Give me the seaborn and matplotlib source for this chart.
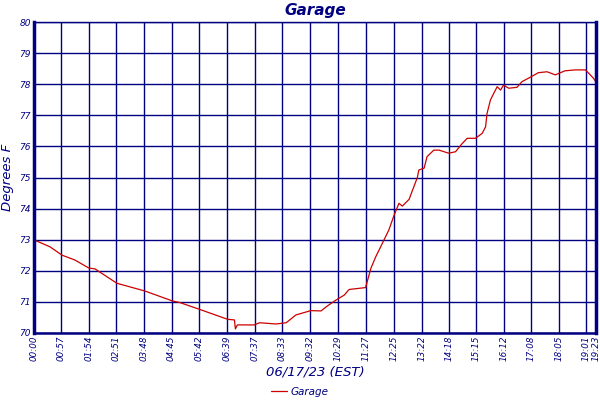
import numpy as np
import pandas as pd
import matplotlib
matplotlib.use('Agg')
import matplotlib.pyplot as plt
import seaborn as sns

# minutes since 00:00 and temperature
minutes = [0, 34, 59, 85, 114, 127, 172, 230, 287, 302, 343, 401, 415, 417, 421,
           456, 467, 501, 522, 542, 573, 594, 607, 625, 642, 652, 686, 697, 707,
           714, 724, 734, 745, 755, 762, 776, 782, 793, 796, 807, 813, 827, 838,
           858, 872, 885, 896, 913, 927, 934, 937, 944, 951, 958, 965, 971, 982,
           999, 1009, 1026, 1043, 1061, 1078, 1098, 1119, 1140, 1146, 1157, 1163]
temps = [73.0, 72.77, 72.5, 72.35, 72.09, 72.06, 71.6, 71.35, 71.03, 70.98, 70.76,
         70.44, 70.42, 70.13, 70.26, 70.26, 70.33, 70.29, 70.33, 70.58, 70.72, 70.71,
         70.87, 71.06, 71.22, 71.4, 71.46, 72.08, 72.45, 72.67, 72.99, 73.31, 73.79,
         74.17, 74.08, 74.3, 74.55, 75.0, 75.24, 75.3, 75.67, 75.88, 75.88, 75.78,
         75.83, 76.08, 76.26, 76.26, 76.42, 76.63, 77.06, 77.49, 77.71, 77.92, 77.81,
         77.97, 77.87, 77.9, 78.08, 78.22, 78.37, 78.4, 78.3, 78.43, 78.46, 78.46,
         78.37, 78.19, 78.05]

tick_labels = ['00:00', '00:57', '01:54', '02:51', '03:48', '04:45', '05:42', '06:39',
               '07:37', '08:33', '09:32', '10:29', '11:27', '12:25', '13:22', '14:18',
               '15:15', '16:12', '17:08', '18:05', '19:01', '19:23']
y_ticks = [70, 71, 72, 73, 74, 75, 76, 77, 78, 79, 80]

navy = '#000080'
red = '#cc0000'

def to_min(s):
    h, m = s.split(':')
    return int(h) * 60 + int(m)

tick_pos = [to_min(s) for s in tick_labels]

df = pd.DataFrame({'minute': minutes, 'temp': temps})

sns.set_style('white')
plt.rcParams['font.family'] = ['DejaVu Sans']

fig = plt.figure(figsize=(6, 4), dpi=100)
ax = fig.add_axes([0.056, 0.1675, 0.938, 0.7775])

sns.lineplot(data=df, x='minute', y='temp', ax=ax, color=red, linewidth=0.9,
             label='Garage')

ax.set_xlim(0, 1163)
ax.set_ylim(70, 80)
ax.set_xticks(tick_pos)
ax.set_xticklabels(tick_labels, rotation=90, fontsize=6.3, style='italic', color=navy)
ax.set_yticks(y_ticks)
ax.set_yticklabels([str(v) for v in y_ticks], fontsize=6.5, style='italic', color=navy)
ax.tick_params(axis='both', length=0, pad=2)

ax.grid(True, color=navy, linewidth=1.0)
ax.set_axisbelow(True)
for side in ['left', 'right']:
    ax.spines[side].set_color(navy)
    ax.spines[side].set_linewidth(2.5)
ax.spines['bottom'].set_color(navy)
ax.spines['bottom'].set_linewidth(1.8)
ax.spines['top'].set_color(navy)
ax.spines['top'].set_linewidth(1.0)

ax.set_title('Garage', fontsize=11, style='italic', fontweight='bold', color=navy, pad=5)
ax.set_ylabel('Degrees F', fontsize=9.5, style='italic', color=navy, labelpad=4)
ax.set_xlabel('06/17/23 (EST)', fontsize=9.5, style='italic', color=navy, labelpad=3)

ax.get_legend().remove()
handles, labels = ax.get_legend_handles_labels()
leg = fig.legend(handles, labels, loc='center', bbox_to_anchor=(0.5, 0.02),
                 frameon=False, fontsize=7.5, handlelength=1.5, handletextpad=0.4,
                 borderpad=0.1)
for t in leg.get_texts():
    t.set_color(navy)
    t.set_style('italic')

fig.savefig('out.png', dpi=100)
